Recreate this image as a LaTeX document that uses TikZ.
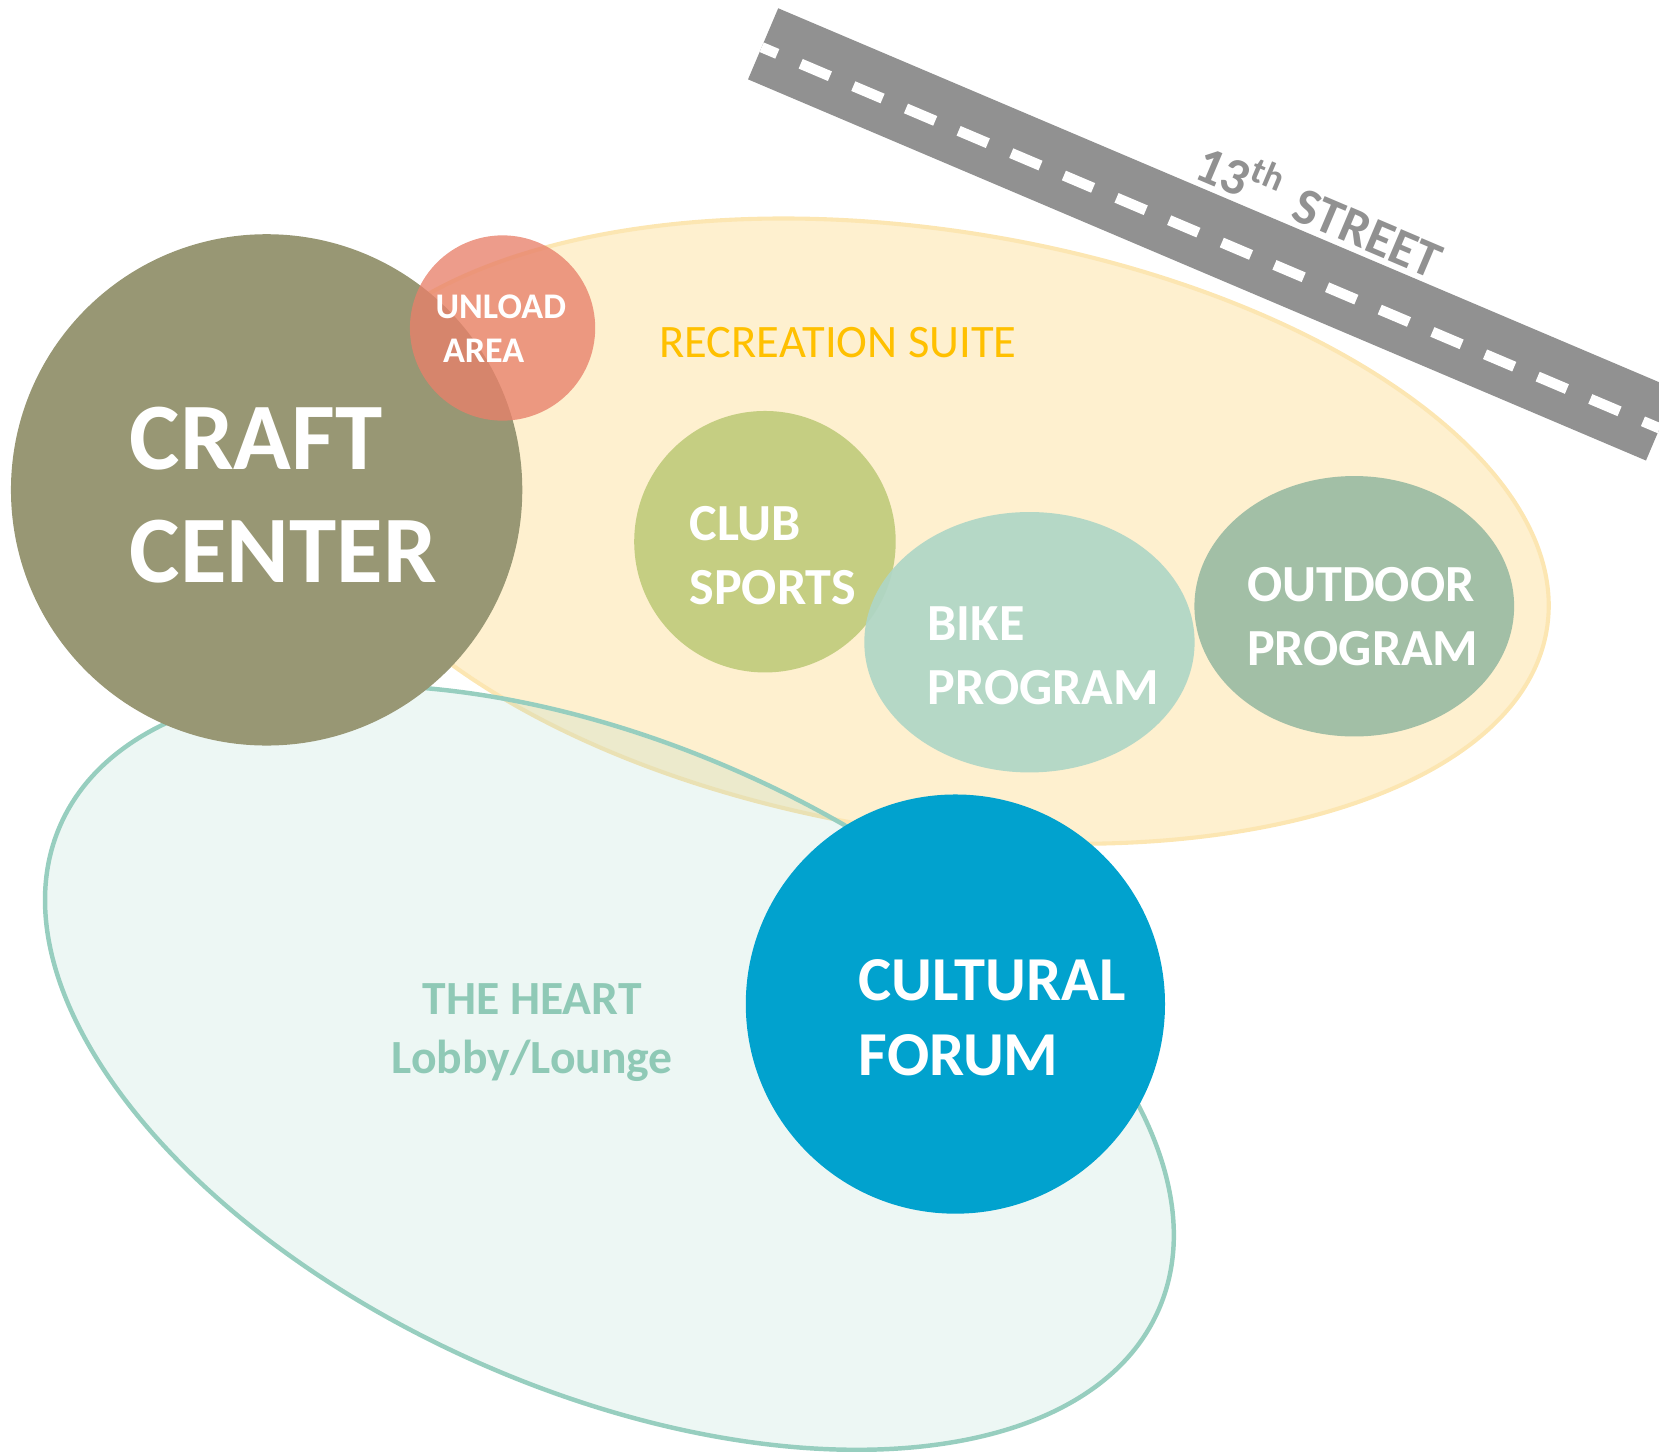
\documentclass[tikz,border=0pt]{standalone}
\usepackage{fontspec}
\setmainfont{Carlito}
\usetikzlibrary{shapes.geometric}
\definecolor{roadgray}{HTML}{919191}
\definecolor{recfill}{HTML}{FEF0CF}
\definecolor{recline}{HTML}{FCE6B2}
\definecolor{recorange}{HTML}{FFC000}
\definecolor{heartgreen}{HTML}{97CEBF}
\definecolor{hearttext}{HTML}{8FC9B6}
\definecolor{craftgreen}{HTML}{989774}
\definecolor{unloadred}{HTML}{E8806A}
\definecolor{clubgreen}{HTML}{C5CE82}
\definecolor{bikegreen}{HTML}{AFD6C6}
\definecolor{outdoorgreen}{HTML}{A2BFA6}
\definecolor{forumblue}{HTML}{01A2CE}
\begin{document}
\begin{tikzpicture}[x=0.01cm,y=0.01cm,
    bubble/.style={inner sep=0pt,outer sep=0pt},
    bigword/.style={text=white,font=\bfseries\fontsize{14}{17.1}\selectfont,align=left,anchor=west,inner sep=0pt}]
  \useasboundingbox (0,0) rectangle (1568,-1372);
  \clip (0,0) rectangle (1568,-1372);
  % 13th street
  \begin{scope}[rotate around={-23:(707,-75)}]
    \fill[roadgray] (707,-75) rectangle (1629,-2);
    \draw[white,line width=2.8pt,dash pattern=on 8.54pt off 6.83pt,dash phase=3.98pt] (707,-42) -- (1629,-42);
    \node[rotate=-23,anchor=base west,inner sep=0pt,text=roadgray,font=\bfseries\fontsize{14}{16}\selectfont] (street) at (1129,4) {13\textsuperscript{th}\hspace{.35em}STREET};
  \end{scope}
  % zones
  \node[bubble,ellipse,rotate=-9,minimum width=11.78cm,minimum height=5.68cm,draw=recline,line width=1.1pt,fill=recfill] (rec) at (880,-502) {};
  \node[bubble,ellipse,rotate=-23.85,minimum width=11.34cm,minimum height=6.1cm,draw=heartgreen,line width=1.2pt,fill=heartgreen,fill opacity=0.17,draw opacity=1] (heart) at (576,-1009) {};
  \node[bubble,circle,minimum size=4.83cm,fill=craftgreen] (craft) at (252,-463) {};
  \node[bubble,circle,minimum size=1.75cm,fill=unloadred,fill opacity=0.78] (unload) at (475,-310) {};
  \node[bubble,circle,minimum size=2.47cm,fill=clubgreen] (club) at (723,-512) {};
  \node[bubble,ellipse,minimum width=3.12cm,minimum height=2.46cm,fill=bikegreen,fill opacity=0.92] (bike) at (973,-607) {};
  \node[bubble,ellipse,minimum width=3.02cm,minimum height=2.46cm,fill=outdoorgreen] (outdoor) at (1280,-573) {};
  \node[bubble,circle,minimum size=3.96cm,fill=forumblue] (forum) at (903,-949) {};
  % labels
  \node[bigword,font=\bfseries\fontsize{25.6}{30.4}\selectfont] (craftlabel) at (122,-468) {CRAFT\\CENTER};
  \node[bigword,font=\bfseries\fontsize{9.7}{11.7}\selectfont] (unloadlabel) at (411,-310.5) {UNLOAD\\\hspace*{2pt}AREA};
  \node[bigword] (clublabel) at (651,-525) {CLUB\\SPORTS};
  \node[bigword] (bikelabel) at (876,-620) {BIKE\\PROGRAM};
  \node[bigword] (outdoorlabel) at (1178,-583) {OUTDOOR\\PROGRAM};
  \node[bigword,font=\bfseries\fontsize{16.8}{20.2}\selectfont] (forumlabel) at (811,-962) {CULTURAL\\FORUM};
  \node[text=recorange,font=\fontsize{12.5}{14}\selectfont] (reclabel) at (792,-324) {RECREATION SUITE};
  \node[text=hearttext,font=\bfseries\fontsize{12.8}{15.9}\selectfont,align=center,anchor=north,inner sep=0pt] (heartlabel) at (503,-929) {THE HEART\\Lobby/Lounge};
\end{tikzpicture}
\end{document}
